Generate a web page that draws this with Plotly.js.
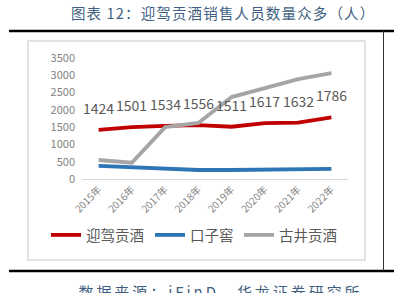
<!DOCTYPE html>
<html>
<head>
<meta charset="utf-8">
<script src="https://cdn.plot.ly/plotly-3.0.1.min.js"></script>
<style>html,body{margin:0;padding:0;background:#fff;}#chart{width:394px;height:293px;}</style>
</head>
<body>
<div id="chart"></div>
<script>
const years = ["2015年","2016年","2017年","2018年","2019年","2020年","2021年","2022年"];
const yingjia = [1424,1501,1534,1556,1511,1617,1632,1786];
const kouzijiao = [380,340,300,260,260,270,290,290];
const gujing = [550,470,1500,1620,2370,2630,2890,3060];
const seriesNames = ["迎驾贡酒","口子窖","古井贡酒"];
const yTicks = [0,500,1000,1500,2000,2500,3000,3500];
const titleText = '图表 12：迎驾贡酒销售人员数量众多（人）';
const sourceText = '数据来源：iFinD，华龙证券研究所';

const FONT = '"Noto Sans CJK SC", "Noto Sans", sans-serif';

const traces = [
  {x: years, y: yingjia, name: seriesNames[0], legend:'legend', type:'scatter', mode:'lines', line:{color:'#c00000', width:3.8}},
  {x: years, y: kouzijiao, name: seriesNames[1], legend:'legend2', type:'scatter', mode:'lines', line:{color:'#2e75b6', width:3.8}},
  {x: years, y: gujing, name: seriesNames[2], legend:'legend3', type:'scatter', mode:'lines', line:{color:'#a5a5a5', width:3.8}}
];

const annotations = years.map((yr,i)=>({
  x: yr, y: yingjia[i], xref:'x', yref:'y', text: String(yingjia[i]),
  showarrow:false, yshift:22, font:{family:FONT, size:14, color:'#595959'}
}));
annotations.push({
  xref:'paper', yref:'paper', x:(223-82)/266, xanchor:'center', y:(179-13)/121, yanchor:'middle',
  text:titleText, showarrow:false, font:{family:FONT, size:14.5, color:'#3f5f82'}
});
annotations.push({
  xref:'paper', yref:'paper', x:(220-82)/266, xanchor:'center', y:(179-291)/121, yanchor:'middle',
  text:sourceText, showarrow:false, font:{family:FONT, size:15, color:'#3f5f82'}
});

function legendAt(px) {
  return {orientation:'h', xref:'container', yref:'container', x:px/394, xanchor:'left',
    y:(293-235)/293, yanchor:'middle', font:{family:FONT, size:14.5, color:'#595959'},
    itemwidth:30, bgcolor:'rgba(0,0,0,0)', borderwidth:0};
}

const layout = {
  width:394, height:293,
  margin:{l:82, r:46, t:58, b:114, pad:0, autoexpand:false},
  paper_bgcolor:'#fff', plot_bgcolor:'#fff',
  showlegend:true,
  legend: legendAt(46),
  legend2: legendAt(150),
  legend3: legendAt(239),
  xaxis:{type:'category', range:[-0.5,7.5], showline:true, linecolor:'#d9d9d9', linewidth:1,
    showgrid:false, zeroline:false, ticks:'', tickangle:-45,
    tickfont:{family:FONT, size:10, color:'#7f7f7f'}, fixedrange:true},
  yaxis:{range:[0,3500], tickvals:yTicks, showgrid:false, zeroline:false, showline:false, ticks:'',
    tickfont:{family:FONT, size:11, color:'#7f7f7f'}, ticklabelstandoff:6},
  shapes:[
    {type:'rect', xref:'paper', yref:'paper', x0:-54/266, x1:(365-82)/266, y0:-(260-179)/121, y1:(179-41)/121,
      line:{color:'#d9d9d9', width:1.5}, layer:'below'},
    {type:'line', xref:'paper', yref:'paper', x0:-73/266, x1:312/266, y0:(179-31)/121, y1:(179-31)/121,
      line:{color:'#000', width:2.5}},
    {type:'line', xref:'paper', yref:'paper', x0:-73/266, x1:312/266, y0:(179-271)/121, y1:(179-271)/121,
      line:{color:'#000', width:2.5}},
    {type:'line', xref:'paper', yref:'paper', x0:(383.5-82)/266, x1:(383.5-82)/266, y0:(179-271)/121, y1:(179-31)/121,
      line:{color:'#333', width:1}}
  ],
  annotations: annotations
};
Plotly.newPlot('chart', traces, layout, {displayModeBar:false, staticPlot:true}).then(()=>{
  document.querySelectorAll('.annotation-text').forEach(el=>{
    if (el.textContent === titleText) el.style.letterSpacing = '1.15px';
    if (el.textContent === sourceText) el.style.letterSpacing = '2.95px';
  });
});
</script>
</body>
</html>
